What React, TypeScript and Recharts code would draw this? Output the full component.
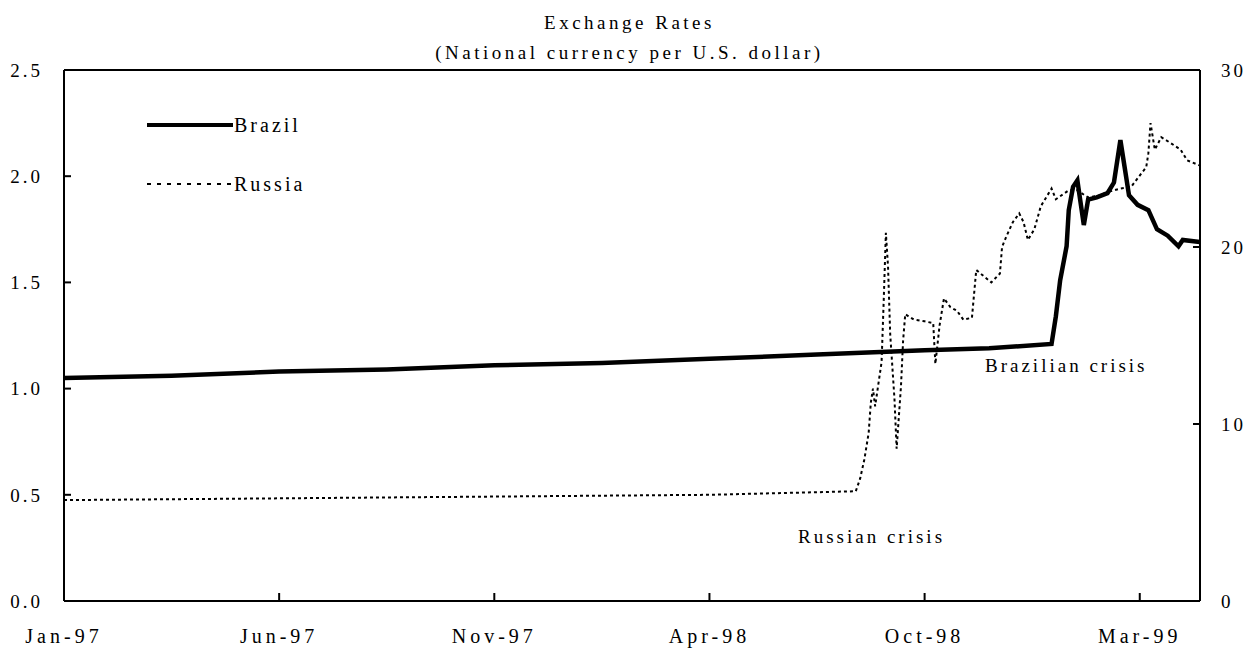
import React from 'react';
import { LineChart, Line, XAxis, YAxis, ReferenceLine } from 'recharts';

// x positions are in "tick units": one labelled interval = 100
const tickPos = [0, 100, 200, 300, 400, 500];
const tickLabels = ['Jan-97', 'Jun-97', 'Nov-97', 'Apr-98', 'Oct-98', 'Mar-99'];
const leftTicks = [0, 0.5, 1, 1.5, 2, 2.5];
const rightTicks = [0, 10, 20, 30];

const brazilT = [0, 50, 100, 150, 200, 250, 300, 350, 400, 430, 459, 461, 463, 466, 467, 469, 471, 474, 476, 480, 485, 488, 491, 493, 495, 499, 504, 508, 513, 518, 520, 528];
const brazilRate = [1.05, 1.06, 1.08, 1.09, 1.11, 1.12, 1.14, 1.16, 1.18, 1.19, 1.21, 1.34, 1.51, 1.67, 1.84, 1.95, 1.98, 1.77, 1.89, 1.9, 1.92, 1.97, 2.17, 2.04, 1.91, 1.865, 1.84, 1.75, 1.72, 1.67, 1.7, 1.69];

const russiaT = [0, 100, 200, 300, 368, 370, 372, 374, 375, 376, 377, 380, 381, 382, 383, 384, 386, 387, 389, 390, 391, 395, 400, 404, 405, 407, 409, 412, 415, 418, 422, 424, 428, 431, 435, 436, 438, 441, 444, 446, 448, 451, 454, 459, 461, 467, 471, 476, 481, 485, 491, 496, 501, 503, 504, 505, 507, 510, 514, 519, 522, 528];
const russiaRate = [5.7, 5.8, 5.9, 6.0, 6.2, 6.9, 8.0, 9.5, 11.2, 12.0, 11.0, 13.5, 17.0, 20.8, 18.9, 15.1, 11.4, 8.6, 12.1, 14.7, 16.2, 15.9, 15.8, 15.7, 13.4, 15.6, 17.1, 16.6, 16.4, 15.9, 16.0, 18.7, 18.3, 18.0, 18.5, 20.0, 20.6, 21.4, 21.9, 21.4, 20.4, 21.0, 22.3, 23.3, 22.7, 23.2, 23.2, 22.8, 22.9, 23.1, 23.3, 23.4, 24.2, 24.5, 25.3, 27.0, 25.5, 26.2, 25.9, 25.5, 24.9, 24.6];

const brazilData = brazilT.map((t, i) => ({ t, brazil: brazilRate[i] }));
const russiaData = russiaT.map((t, i) => ({ t, russia: russiaRate[i] }));

const FONT = '"Liberation Serif", "Times New Roman", serif';
const yTickStyle = { fill: '#000', fontSize: 19, fontFamily: FONT, letterSpacing: 3 };
const xTickStyle = { fill: '#000', fontSize: 20, fontFamily: FONT, letterSpacing: 4 };

const textStyle: React.CSSProperties = {
  position: 'absolute', fontFamily: FONT, color: '#000', whiteSpace: 'nowrap', lineHeight: 1,
  fontSize: 19, letterSpacing: 3,
};

const App: React.FC = () => {
  return (
    <div style={{ position: 'absolute', left: 0, top: 0, width: 1259, height: 655, background: '#fff' }}>
      <LineChart width={1259} height={655} margin={{ top: 70, right: 0, bottom: 0, left: 0 }}>
        <XAxis
          type="number" dataKey="t" domain={[0, 528]} ticks={tickPos} allowDataOverflow
          tickFormatter={(v: number) => tickLabels[tickPos.indexOf(v)] ?? ''}
          height={54} stroke="#000" strokeWidth={2} tickSize={-8} tickMargin={36} tick={xTickStyle}
        />
        <YAxis
          yAxisId="left" domain={[0, 2.5]} ticks={leftTicks} width={64}
          tickFormatter={(v: number) => v.toFixed(1)}
          stroke="#000" strokeWidth={2} tickSize={-7} tickMargin={28} tick={yTickStyle}
        />
        <YAxis
          yAxisId="right" orientation="right" domain={[0, 30]} ticks={rightTicks} width={59}
          stroke="#000" strokeWidth={2} tickSize={-7} tickMargin={28} tick={yTickStyle}
        />
        <ReferenceLine yAxisId="left" y={2.5} stroke="#000" strokeWidth={2} />
        <Line
          yAxisId="left" data={brazilData} dataKey="brazil" name="Brazil" type="linear"
          stroke="#000" strokeWidth={4.5} dot={false} isAnimationActive={false}
        />
        <Line
          yAxisId="right" data={russiaData} dataKey="russia" name="Russia" type="linear"
          stroke="#000" strokeWidth={2} strokeDasharray="3 3" dot={false} isAnimationActive={false}
        />
      </LineChart>
      <div style={{ ...textStyle, left: 0, width: 1259, top: 13, textAlign: 'center', letterSpacing: 3.5 }}>
        Exchange Rates
      </div>
      <div style={{ ...textStyle, left: 0, width: 1259, top: 43, textAlign: 'center', letterSpacing: 3.5 }}>
        (National currency per U.S. dollar)
      </div>
      <div style={{ position: 'absolute', left: 147, top: 110 }}>
        <div style={{ display: 'flex', alignItems: 'center', height: 30 }}>
          <svg width={86} height={10}><line x1={0} y1={5} x2={86} y2={5} stroke="#000" strokeWidth={4} /></svg>
          <span style={{ ...textStyle, position: 'static', marginLeft: 1, fontSize: 20 }}>Brazil</span>
        </div>
        <div style={{ display: 'flex', alignItems: 'center', height: 30, marginTop: 29 }}>
          <svg width={86} height={10}><line x1={0} y1={5} x2={86} y2={5} stroke="#000" strokeWidth={2} strokeDasharray="4 6" /></svg>
          <span style={{ ...textStyle, position: 'static', marginLeft: 1, fontSize: 20 }}>Russia</span>
        </div>
      </div>
      <div style={{ ...textStyle, left: 798, top: 527 }}>Russian crisis</div>
      <div style={{ ...textStyle, left: 985, top: 356 }}>Brazilian crisis</div>
    </div>
  );
};

export default App;
